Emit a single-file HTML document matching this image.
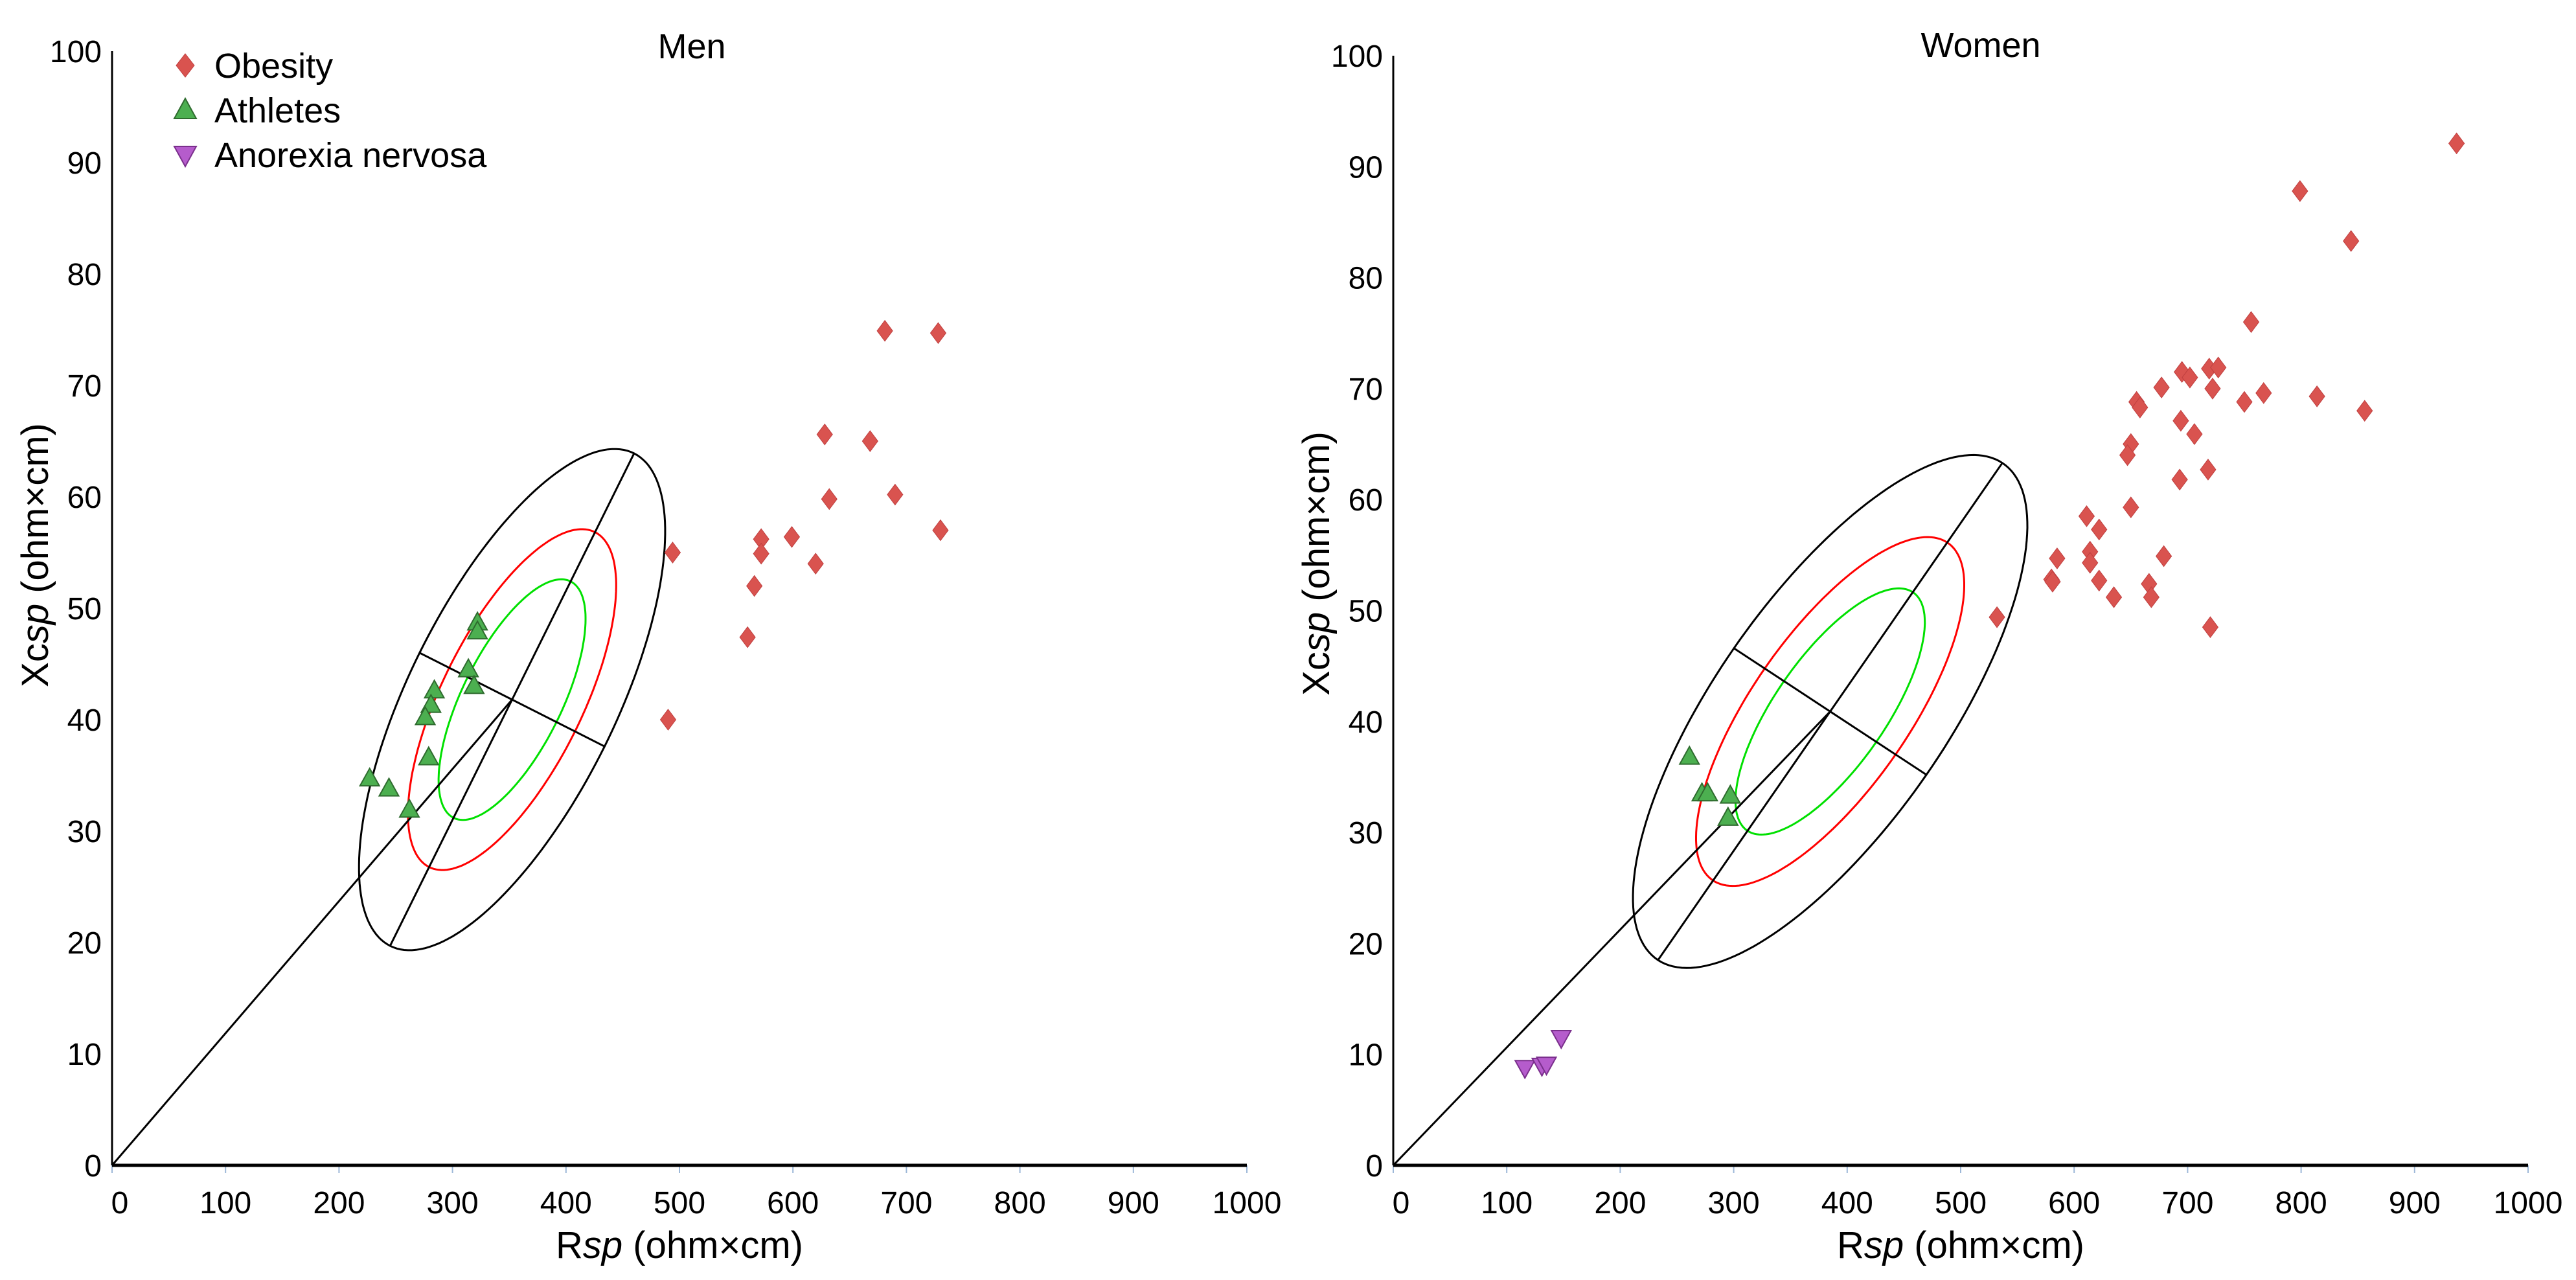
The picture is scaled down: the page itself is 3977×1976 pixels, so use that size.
<!DOCTYPE html>
<html><head><meta charset="utf-8"><style>
html,body{margin:0;padding:0;background:#fff;}
svg{display:block;font-family:"Liberation Sans",sans-serif;}
</style></head><body>
<svg id="chart" width="3977" height="1976" viewBox="0 0 3977 1976" xmlns="http://www.w3.org/2000/svg"></svg>
<script>
// ---------- data ----------
const xTicks = [0,100,200,300,400,500,600,700,800,900,1000];
const yTicks = [0,10,20,30,40,50,60,70,80,90,100];

const menObesityR = [681,728,628,668,632,690,730,494,572,572,599,620,566,560,490];
const menObesityX = [74.9,74.7,65.6,65.0,59.8,60.2,57.0,55.0,56.2,54.9,56.4,54.0,52.0,47.4,40.0];
const menAthletesR = [322,322,314,319,284,281,276,279,227,244,262];
const menAthletesX = [48.7,47.9,44.5,43.0,42.6,41.3,40.2,36.6,34.7,33.8,31.9];
const menCenter = [352.5,41.8];
const menMajorEnd = [460,63.9];
const menMinorEnd = [434,37.6];

const womenObesityR = [937,799,844,756,695,702,719,727,677,722,767,750,814,856,655,658,694,706,650,647,718,693,650,611,622,614,614,585,580,581,679,622,666,635,668,720,532];
const womenObesityX = [92.1,87.8,83.3,76.0,71.5,71.0,71.8,71.9,70.1,70.0,69.6,68.8,69.3,68.0,68.8,68.3,67.1,65.9,65.0,64.0,62.7,61.8,59.3,58.5,57.3,55.3,54.3,54.7,52.8,52.6,54.9,52.7,52.4,51.2,51.2,48.5,49.4];
const womenAthletesR = [261,272,277,297,295];
const womenAthletesX = [36.8,33.5,33.5,33.3,31.3];
const womenAnorexiaR = [148,116,131,135];
const womenAnorexiaX = [11.5,8.8,9.0,9.1];
const womenCenter = [385,40.9];
const womenMajorEnd = [536.7,63.3];
const womenMinorEnd = [469.8,35.2];

const ellipseScales = [1,0.68,0.48];
const ellipseColors = ['#000000','#ff0000','#00e000'];

// ---------- drawing ----------
const NS = 'http://www.w3.org/2000/svg';
const svg = document.getElementById('chart');
function mk(tag, attrs, parent){
  const e = document.createElementNS(NS, tag);
  for (const k in attrs) e.setAttribute(k, attrs[k]);
  (parent||svg).appendChild(e);
  return e;
}

function drawPanel(p){
  const g = mk('g', {});
  
  
  const sx = v => p.x0 + (v/1000)*(p.x1-p.x0);
  const sy = v => p.y0 - (v/100)*(p.y0-p.y100);

  // title
  const t = mk('text', {x:p.titleX, y:p.titleY, 'font-size':54, 'text-anchor':'middle', fill:'#000'}, g);
  t.textContent = p.title;
  
  

  // x ticks
  xTicks.forEach(v => {
    const tk = mk('line', {x1:sx(v), x2:sx(v), y1:p.y0, y2:p.y0+12, stroke:'#9db8d8', 'stroke-width':2}, g);
    
    
    const lb = mk('text', {x:sx(v)+(v===0?12:0), y:p.y0+74, 'font-size':48, 'text-anchor':'middle', fill:'#000'}, g);
    lb.textContent = v;
    
    
  });
  yTicks.forEach(v => {
    const lb = mk('text', {x:p.x0-16, y:sy(v)+17, 'font-size':48, 'text-anchor':'end', fill:'#000'}, g);
    lb.textContent = v;
    
    
  });

  // axes
  const ya = mk('line', {x1:p.x0, x2:p.x0, y1:sy(100), y2:p.y0, stroke:'#000', 'stroke-width':3}, g);
  
  
  const xa = mk('line', {x1:p.x0, x2:p.x1, y1:p.y0, y2:p.y0, stroke:'#000', 'stroke-width':5}, g);
  
  

  // axis titles
  const xt = mk('text', {x:(p.x0+p.x1)/2, y:1942, 'font-size':58, 'text-anchor':'middle', fill:'#000'}, g);
  xt.innerHTML = 'R<tspan font-style="italic">sp</tspan> (ohm×cm)';
  
  
  const yt = mk('text', {x:0, y:0, 'font-size':58, 'text-anchor':'middle', fill:'#000', transform:`translate(${p.yTitleX},${p.yTitleY}) rotate(-90)`}, g);
  yt.innerHTML = 'Xc<tspan font-style="italic">sp</tspan> (ohm×cm)';
  
  

  // ellipses (data space, conjugate axes)
  const c = p.center, A = p.majorEnd, B = p.minorEnd;
  ellipseScales.forEach((s, i) => {
    let d = '';
    for (let k = 0; k <= 180; k++){
      const th = k/180*2*Math.PI;
      const vx = c[0] + s*(Math.cos(th)*(A[0]-c[0]) + Math.sin(th)*(B[0]-c[0]));
      const vy = c[1] + s*(Math.cos(th)*(A[1]-c[1]) + Math.sin(th)*(B[1]-c[1]));
      d += (k ? 'L' : 'M') + sx(vx).toFixed(1) + ',' + sy(vy).toFixed(1);
    }
    const el = mk('path', {d:d+'Z', fill:'none', stroke:ellipseColors[i], 'stroke-width':3}, g);
    
    
  });
  // axes of ellipse
  const maj = mk('line', {x1:sx(2*c[0]-A[0]), y1:sy(2*c[1]-A[1]), x2:sx(A[0]), y2:sy(A[1]), stroke:'#000', 'stroke-width':3}, g);
  
  
  const mn = mk('line', {x1:sx(2*c[0]-B[0]), y1:sy(2*c[1]-B[1]), x2:sx(B[0]), y2:sy(B[1]), stroke:'#000', 'stroke-width':3}, g);
  
  
  const og = mk('line', {x1:sx(0), y1:sy(0), x2:sx(c[0]), y2:sy(c[1]), stroke:'#000', 'stroke-width':3}, g);
  
  

  // points
  (p.obR||[]).forEach((r, i) => {
    const x = sx(r), y = sy(p.obX[i]);
    const m = mk('polygon', {points:`${x},${y-16} ${x+12},${y} ${x},${y+16} ${x-12},${y}`, fill:'#d9534f', stroke:'#c04040', 'stroke-width':1}, g);
    
    
  });
  (p.atR||[]).forEach((r, i) => {
    const x = sx(r), y = sy(p.atX[i]);
    const m = mk('polygon', {points:`${x},${y-16} ${x+15},${y+11} ${x-15},${y+11}`, fill:'#4caf50', stroke:'#2e6b2e', 'stroke-width':2}, g);
    
    
  });
  (p.anR||[]).forEach((r, i) => {
    const x = sx(r), y = sy(p.anX[i]);
    const m = mk('polygon', {points:`${x-15},${y-11} ${x+15},${y-11} ${x},${y+16}`, fill:'#b55ccc', stroke:'#7a2f8c', 'stroke-width':2}, g);
    
    
  });
}

drawPanel({name:'men', title:'Men', titleX:1068, titleY:90, x0:173, x1:1925, y0:1799, y100:79,
  yTitleX:74, yTitleY:857,
  center:menCenter, majorEnd:menMajorEnd, minorEnd:menMinorEnd,
  obR:menObesityR, obX:menObesityX, atR:menAthletesR, atX:menAthletesX});
drawPanel({name:'women', title:'Women', titleX:3058, titleY:88, x0:2151, x1:3903, y0:1799, y100:86,
  yTitleX:2052, yTitleY:870,
  center:womenCenter, majorEnd:womenMajorEnd, minorEnd:womenMinorEnd,
  obR:womenObesityR, obX:womenObesityX, atR:womenAthletesR, atX:womenAthletesX, anR:womenAnorexiaR, anX:womenAnorexiaX});

// legend
const lg = mk('g', {});


const legendLabels = ['Obesity','Athletes','Anorexia nervosa'];
const legendY = [101,170,239];
legendLabels.forEach((lab, i) => {
  const x = 286, y = legendY[i];
  let shape;
  if (i === 0) shape = mk('polygon', {points:`${x},${y-18} ${x+14},${y} ${x},${y+18} ${x-14},${y}`, fill:'#d9534f', stroke:'#c04040', 'stroke-width':1}, lg);
  else if (i === 1) shape = mk('polygon', {points:`${x},${y-18} ${x+17},${y+13} ${x-17},${y+13}`, fill:'#4caf50', stroke:'#2e6b2e', 'stroke-width':2}, lg);
  else shape = mk('polygon', {points:`${x-17},${y-13} ${x+17},${y-13} ${x},${y+18}`, fill:'#b55ccc', stroke:'#7a2f8c', 'stroke-width':2}, lg);
  
  
  const t = mk('text', {x:331, y:y+19, 'font-size':54, fill:'#000'}, lg);
  t.textContent = lab;
  
  
});
</script>
</body></html>
